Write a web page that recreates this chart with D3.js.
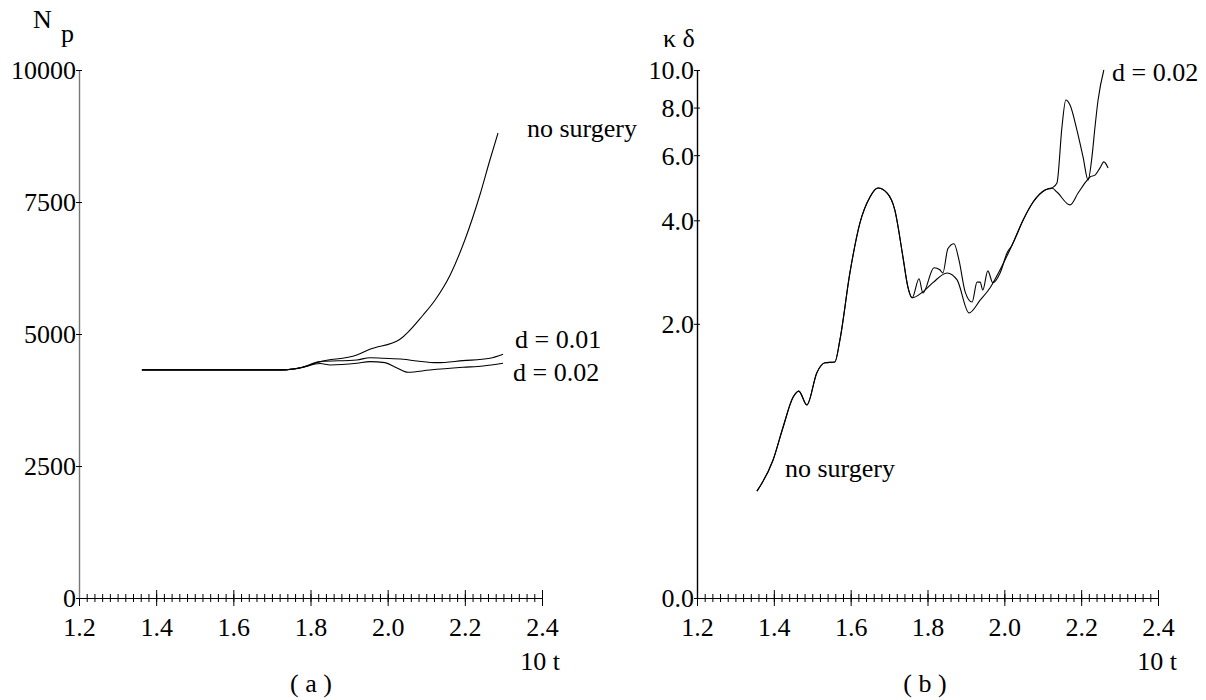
<!DOCTYPE html>
<html>
<head>
<meta charset="utf-8">
<script src="https://cdn.jsdelivr.net/npm/d3@7"></script>
<style>
body { margin: 0; background: #fff; }
svg text { font-family: "Liberation Serif", "DejaVu Serif", "Noto Serif", "Times New Roman", Times, serif; font-size: 26px; fill: #000; }
.curve { fill: none; stroke: #000; stroke-width: 1.1; }
</style>
</head>
<body>
<svg id="chart" width="1206" height="700"></svg>
<script>
// x axis (shared by both panels)
var xMajorTicks = [1.2, 1.4, 1.6, 1.8, 2.0, 2.2, 2.4];
var xTickLabels = ["1.2", "1.4", "1.6", "1.8", "2.0", "2.2", "2.4"];

// panel (a): N_p
var aYTicks = [0, 2500, 5000, 7500, 10000];
var aYTickLabels = ["0", "2500", "5000", "7500", "10000"];

var aTimeNoSurgery = [1.363, 1.729, 1.773, 1.825, 1.920, 1.954, 2.032, 2.092, 2.123, 2.162, 2.200, 2.239, 2.265, 2.286];
var aNoSurgery     = [4320, 4320, 4360, 4476, 4602, 4710, 4900, 5360, 5644, 6118, 6780, 7633, 8296, 8807];

var aTimeD001 = [1.363, 1.729, 1.773, 1.825, 1.920, 1.954, 1.988, 2.040, 2.076, 2.128, 2.195, 2.265, 2.299];
var aD001     = [4320, 4320, 4360, 4476, 4508, 4551, 4540, 4521, 4489, 4457, 4495, 4540, 4616];

var aTimeD002 = [1.363, 1.729, 1.773, 1.825, 1.851, 1.920, 1.954, 1.993, 2.023, 2.053, 2.109, 2.195, 2.247, 2.299];
var aD002     = [4320, 4320, 4355, 4440, 4413, 4445, 4476, 4457, 4362, 4275, 4318, 4369, 4394, 4445];

// panel (b): kappa delta
var bYTicks = [0, 2, 4, 6, 8, 10];
var bYTickLabels = ["0.0", "2.0", "4.0", "6.0", "8.0", "10.0"];

var bTimeNoSurgery = [1.356, 1.398, 1.424, 1.450, 1.465, 1.486, 1.512, 1.533, 1.559, 1.572, 1.598, 1.624, 1.650, 1.671,
                      1.695, 1.715, 1.736, 1.749, 1.760, 1.788, 1.814, 1.851, 1.877, 1.908, 1.937, 1.963, 1.989, 2.020,
                      2.049, 2.075, 2.106, 2.124, 2.137, 2.171, 2.192, 2.212, 2.223, 2.236, 2.249, 2.259, 2.270];
var bNoSurgery     = [0.45, 0.64, 0.88, 1.14, 1.20, 1.07, 1.39, 1.50, 1.51, 1.78, 2.84, 3.93, 4.63, 4.90,
                      4.75, 4.27, 3.16, 2.58, 2.40, 2.50, 2.66, 2.84, 2.71, 2.16, 2.36, 2.57, 2.90, 3.41,
                      4.01, 4.49, 4.84, 4.90, 4.78, 4.41, 4.75, 5.09, 5.25, 5.31, 5.55, 5.76, 5.55];

var bTimeD002 = [1.356, 1.398, 1.424, 1.450, 1.465, 1.486, 1.512, 1.533, 1.559, 1.572, 1.598, 1.624, 1.650, 1.671,
                 1.695, 1.715, 1.736, 1.749, 1.760, 1.778, 1.788, 1.817, 1.832, 1.840, 1.853, 1.869, 1.882, 1.898,
                 1.916, 1.929, 1.937, 1.944, 1.957, 1.970, 1.989, 2.007, 2.020, 2.049, 2.075, 2.106, 2.124, 2.137,
                 2.150, 2.160, 2.171, 2.189, 2.205, 2.218, 2.228, 2.236, 2.244, 2.259];
var bD002     = [0.45, 0.64, 0.88, 1.14, 1.20, 1.07, 1.39, 1.50, 1.51, 1.78, 2.84, 3.93, 4.63, 4.90,
                 4.75, 4.27, 3.16, 2.58, 2.40, 2.73, 2.48, 2.94, 2.90, 2.84, 3.33, 3.44, 3.09, 2.50,
                 2.33, 2.67, 2.67, 2.53, 2.88, 2.66, 2.84, 3.24, 3.41, 4.01, 4.49, 4.84, 4.90, 5.06,
                 7.12, 8.37, 8.12, 6.99, 5.93, 5.15, 5.93, 7.12, 8.37, 10.0];

var FONT = "'Liberation Serif', 'DejaVu Serif', 'Noto Serif', 'Times New Roman', Times, serif";

var svg = d3.select("#chart");

function zip(ts, vs)
{
    return ts.map(function(t, i) { return {t: t, v: vs[i]}; });
}

function drawPanel(p)
{
    var g = svg.append("g");
    var x = p.x, y = p.y;
    var x0 = x.range()[0];
    var y0 = y.range()[0];

    // minor x ticks, crossing the axis
    var xMinor = g.append("g")
        .attr("transform", "translate(0," + y0 + ")")
        .call(d3.axisBottom(x).tickValues(x.ticks(60)).tickSize(4).tickFormat(""));
    xMinor.select(".domain").remove();
    xMinor.selectAll(".tick line").attr("y1", -4).attr("y2", 4).attr("stroke", "#000");

    // major x ticks with labels
    var xAxis = g.append("g")
        .attr("transform", "translate(0," + y0 + ")")
        .call(d3.axisBottom(x).tickValues(xMajorTicks).tickSizeOuter(0)
            .tickFormat(function(d, i) { return xTickLabels[i]; }));
    xAxis.attr("font-family", FONT).attr("font-size", 26);
    xAxis.select(".domain").attr("stroke", "#000").attr("stroke-width", 1.2);
    xAxis.selectAll(".tick line").attr("y1", -8).attr("y2", 8).attr("stroke", "#000");
    xAxis.selectAll(".tick text").attr("y", 38).attr("dy", null);

    // y axis
    var yAxis = g.append("g")
        .attr("transform", "translate(" + x0 + ",0)")
        .call(d3.axisLeft(y).tickValues(p.yTicks).tickSizeOuter(0)
            .tickFormat(function(d, i) { return p.yTickLabels[i]; }));
    yAxis.attr("font-family", FONT).attr("font-size", 26);
    yAxis.select(".domain").attr("stroke", p.yAxisColor).attr("stroke-width", 1.4);
    yAxis.selectAll(".tick line").attr("x1", -3).attr("x2", 3).attr("stroke", "#000");
    yAxis.selectAll(".tick text").attr("x", -3).attr("dy", "0.34em");

    // curves
    var line = d3.line()
        .x(function(d) { return x(d.t); })
        .y(function(d) { return y(d.v); })
        .curve(d3.curveMonotoneX);

    p.series.forEach(function(s) {
        g.append("path")
            .attr("class", "curve")
            .attr("d", line(s));
    });

    // labels
    p.labels.forEach(function(l) {
        g.append("text")
            .attr("x", l.x).attr("y", l.y)
            .attr("font-family", FONT)
            .attr("text-anchor", l.anchor || "start")
            .text(l.text);
    });
}

// panel (a)
drawPanel({
    x: d3.scaleLinear().domain([1.2, 2.4]).range([79, 542]),
    y: d3.scaleLinear().domain([0, 10000]).range([598, 70]),
    yTicks: aYTicks,
    yTickLabels: aYTickLabels,
    yAxisColor: "#777",
    series: [zip(aTimeNoSurgery, aNoSurgery), zip(aTimeD001, aD001), zip(aTimeD002, aD002)],
    labels: [
        {x: 527, y: 137, text: "no surgery"},
        {x: 515, y: 348, text: "d = 0.01"},
        {x: 513, y: 381, text: "d = 0.02"},
        {x: 560, y: 670, text: "10 t", anchor: "end"},
        {x: 311, y: 692, text: "( a )", anchor: "middle"}
    ]
});

// panel (b)
drawPanel({
    x: d3.scaleLinear().domain([1.2, 2.4]).range([697, 1158]),
    y: d3.scaleSymlog().constant(0.55).domain([0, 10]).range([598, 70]),
    yTicks: bYTicks,
    yTickLabels: bYTickLabels,
    yAxisColor: "#000",
    series: [zip(bTimeNoSurgery, bNoSurgery), zip(bTimeD002, bD002)],
    labels: [
        {x: 785, y: 477, text: "no surgery"},
        {x: 1112, y: 81, text: "d = 0.02"},
        {x: 1177, y: 670, text: "10 t", anchor: "end"},
        {x: 925, y: 692, text: "( b )", anchor: "middle"}
    ]
});

// axis titles
svg.append("text").attr("x", 33).attr("y", 28).attr("font-family", FONT).text("N");
svg.append("text").attr("x", 61).attr("y", 42).attr("font-family", FONT).text("p");
svg.append("text").attr("x", 663).attr("y", 47).attr("font-family", FONT).text("κ δ");
</script>
</body>
</html>
